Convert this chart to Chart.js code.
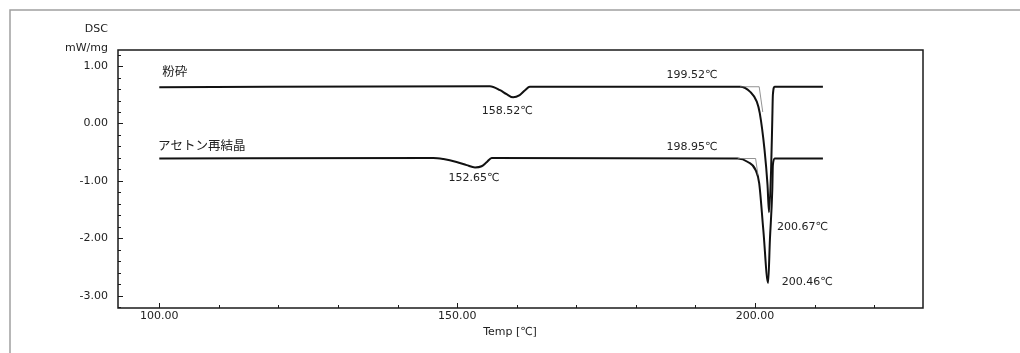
<!DOCTYPE html>
<html>
<head>
<meta charset="utf-8">
<script src="https://cdn.jsdelivr.net/npm/chart.js@4.4.1/dist/chart.umd.min.js"></script>
<style>
  html, body { margin: 0; padding: 0; background: #fff; }
  canvas { display: block; }
</style>
</head>
<body>
<canvas id="dscChart" width="1020" height="353"></canvas>
<script>
const seriesNames = ['粉砕', 'アセトン再結晶'];

const groundTemp = [100, 155.5, 157.2, 158.3, 159.4, 160.5, 161.4, 162.2, 197.5, 199.2, 200.3, 200.8, 201.6, 202.1, 202.35, 202.7, 202.9, 203.0, 203.3, 211.4];
const groundDsc  = [0.63, 0.65, 0.58, 0.51, 0.455, 0.495, 0.58, 0.64, 0.64, 0.55, 0.38, 0.18, -0.46, -1.07, -1.545, -0.81, 0.06, 0.5, 0.64, 0.64];

const recrystTemp = [100, 146.0, 147.7, 149.9, 151.6, 153.0, 154.1, 155.0, 155.8, 197.1, 198.8, 200.1, 200.7, 201.4, 202.2, 202.5, 202.9, 203.0, 203.3, 211.4];
const recrystDsc  = [-0.61, -0.60, -0.62, -0.67, -0.725, -0.765, -0.745, -0.67, -0.60, -0.61, -0.67, -0.81, -1.04, -1.86, -2.78, -2.03, -1.16, -0.725, -0.61, -0.61];

// dünne Onset-Tangenten
const groundOnsetTemp  = [197.5, 200.7, 201.3];
const groundOnsetDsc   = [0.64, 0.64, 0.2];
const recrystOnsetTemp = [197.1, 200.1, 200.5];
const recrystOnsetDsc  = [-0.61, -0.61, -0.9];

const xTickVals = [100, 150, 200];
const yTickVals = [-3, -2, -1, 0, 1];

const peakLabels = ['158.52℃', '199.52℃', '200.67℃', '152.65℃', '198.95℃', '200.46℃'];

const toPoints = (xs, ys) => xs.map((t, i) => ({ x: t, y: ys[i] }));

const TXT = '#222';
const NUM_FONT = '11px "DejaVu Sans", sans-serif';

const decor = {
  id: 'decor',
  beforeDraw(chart) {
    const ctx = chart.ctx;
    ctx.save();
    ctx.fillStyle = '#fff';
    ctx.fillRect(0, 0, chart.width, chart.height);
    // Rand der gescannten Seite
    ctx.strokeStyle = '#a0a0a0';
    ctx.lineWidth = 1.5;
    ctx.beginPath();
    ctx.moveTo(10, chart.height);
    ctx.lineTo(10, 10);
    ctx.lineTo(chart.width, 10);
    ctx.stroke();
    ctx.restore();
  },
  afterDraw(chart) {
    const { ctx, chartArea: a, scales: { x, y } } = chart;
    ctx.save();

    // Rahmen
    ctx.strokeStyle = '#1a1a1a';
    ctx.lineWidth = 1.5;
    ctx.strokeRect(a.left, a.top, a.right - a.left, a.bottom - a.top);

    // Ticks nach innen
    ctx.lineWidth = 1;
    ctx.beginPath();
    for (let i = -16; i <= 6; i++) {
      const py = Math.round(y.getPixelForValue(i / 5)) + 0.5;
      const len = i % 5 === 0 ? 5 : 3;
      ctx.moveTo(a.left, py);
      ctx.lineTo(a.left + len, py);
    }
    for (let t = 100; t <= 220; t += 10) {
      const px = Math.round(x.getPixelForValue(t)) + 0.5;
      const len = t % 50 === 0 ? 5 : 3;
      ctx.moveTo(px, a.bottom);
      ctx.lineTo(px, a.bottom - len);
    }
    ctx.stroke();

    // Achsentitel
    ctx.fillStyle = TXT;
    ctx.font = NUM_FONT;
    ctx.textBaseline = 'middle';
    ctx.textAlign = 'right';
    ctx.fillText('DSC', a.left - 10, 29);
    ctx.fillText('mW/mg', a.left - 10, 48);
    ctx.textAlign = 'center';
    ctx.fillText('Temp [℃]', 510, 332);

    // Kurvennamen
    ctx.font = '12.5px "Noto Sans CJK JP", sans-serif';
    ctx.textAlign = 'left';
    ctx.fillText(seriesNames[0], x.getPixelForValue(100.5), y.getPixelForValue(0.905));
    ctx.fillText(seriesNames[1], x.getPixelForValue(99.8), y.getPixelForValue(-0.377));

    // Peak-Beschriftungen
    ctx.font = NUM_FONT;
    const spots = [
      { t: 158.4, v: 0.221, align: 'center' },
      { t: 189.4, v: 0.844, align: 'center' },
      { t: 203.7, v: -1.807, align: 'left' },
      { t: 152.8, v: -0.952, align: 'center' },
      { t: 189.4, v: -0.406, align: 'center' },
      { t: 204.5, v: -2.766, align: 'left' }
    ];
    spots.forEach((s, i) => {
      ctx.textAlign = s.align;
      ctx.fillText(peakLabels[i], x.getPixelForValue(s.t), y.getPixelForValue(s.v));
    });
    ctx.restore();
  }
};

const curveStyle = {
  borderColor: '#111',
  borderWidth: 2,
  pointRadius: 0,
  fill: false,
  cubicInterpolationMode: 'monotone'
};
const thinStyle = {
  borderColor: '#777',
  borderWidth: 0.8,
  pointRadius: 0,
  fill: false,
  tension: 0
};

const chart = new Chart(document.getElementById('dscChart').getContext('2d'), {
  type: 'line',
  data: {
    datasets: [
      Object.assign({ label: seriesNames[0] + ' onset', data: toPoints(groundOnsetTemp, groundOnsetDsc) }, thinStyle),
      Object.assign({ label: seriesNames[1] + ' onset', data: toPoints(recrystOnsetTemp, recrystOnsetDsc) }, thinStyle),
      Object.assign({ label: seriesNames[0], data: toPoints(groundTemp, groundDsc) }, curveStyle),
      Object.assign({ label: seriesNames[1], data: toPoints(recrystTemp, recrystDsc) }, curveStyle)
    ]
  },
  options: {
    responsive: false,
    animation: false,
    devicePixelRatio: 1,
    layout: { padding: { top: 50, right: 97, left: 0, bottom: 0 } },
    plugins: {
      legend: { display: false },
      tooltip: { enabled: false }
    },
    scales: {
      x: {
        type: 'linear',
        min: 93.07,
        max: 228.2,
        grid: { display: false, drawTicks: false },
        border: { display: false },
        afterBuildTicks: (s) => { s.ticks = xTickVals.map(v => ({ value: v })); },
        afterFit: (s) => { s.height = 45; },
        ticks: {
          padding: 2,
          color: TXT,
          font: { family: 'DejaVu Sans', size: 11 },
          maxRotation: 0,
          autoSkip: false,
          callback: (v) => Number(v).toFixed(2)
        }
      },
      y: {
        type: 'linear',
        min: -3.214,
        max: 1.28,
        grid: { display: false, drawTicks: false },
        border: { display: false },
        afterBuildTicks: (s) => { s.ticks = yTickVals.map(v => ({ value: v })); },
        afterFit: (s) => { s.width = 118; },
        ticks: {
          padding: 10,
          color: TXT,
          font: { family: 'DejaVu Sans', size: 11 },
          autoSkip: false,
          callback: (v) => Number(v).toFixed(2)
        }
      }
    }
  },
  plugins: [decor]
});
</script>
</body>
</html>
